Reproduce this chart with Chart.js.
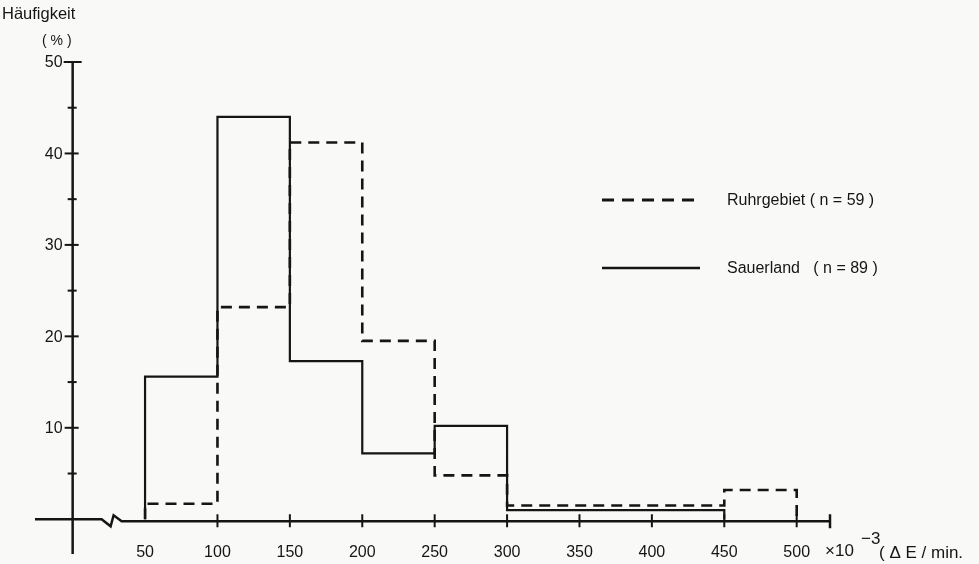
<!DOCTYPE html>
<html>
<head>
<meta charset="utf-8">
<script src="https://cdn.jsdelivr.net/npm/chart.js@4/dist/chart.umd.min.js"></script>
<style>
  html, body { margin: 0; padding: 0; background: #f9f9f7; }
  #wrap { width: 979px; height: 564px; }
</style>
</head>
<body>
<div id="wrap"><canvas id="histChart"></canvas></div>
<script>
// Klassengrenzen (x10^-3 dE/min) und Häufigkeiten in %
const ruhrEdges = [50, 100, 150, 200, 250, 300, 450, 500];
const ruhrValues = [1.7, 23.2, 41.2, 19.5, 4.8, 1.5, 3.2];
const sauerEdges = [50, 100, 150, 200, 250, 300, 450];
const sauerValues = [15.6, 44.0, 17.3, 7.2, 10.2, 1.0];

const xTickValues = [50, 100, 150, 200, 250, 300, 350, 400, 450, 500];
const xTickMarks = [100, 150, 200, 250, 300, 350, 400, 450, 500];
const yLabelValues = [10, 20, 30, 40, 50];
const yTickMarks = [5, 10, 15, 20, 25, 30, 35, 40, 45, 50];

const ruhrLabel = 'Ruhrgebiet ( n = 59 )';
const sauerLabel = 'Sauerland   ( n = 89 )';

const ink = '#151515';
const fontName = '"Liberation Sans", Arial, sans-serif';

// Treppenlinie aus Grenzen + Werten
function stepPoints(edges, values) {
  const pts = [{ x: edges[0], y: 0 }];
  values.forEach((v, i) => pts.push({ x: edges[i], y: v }));
  pts.push({ x: edges[edges.length - 1], y: values[values.length - 1] });
  pts.push({ x: edges[edges.length - 1], y: 0 });
  return pts;
}

const axesPlugin = {
  id: 'axesPlugin',
  beforeDraw(chart) {
    const ctx = chart.ctx;
    ctx.save();
    ctx.fillStyle = '#f9f9f7';
    ctx.fillRect(0, 0, chart.width, chart.height);
    ctx.restore();
  },
  beforeDatasetsDraw(chart) {
    const { ctx, scales: { x, y } } = chart;
    const x0 = x.getPixelForValue(0);
    const y0 = y.getPixelForValue(0);
    ctx.save();
    ctx.strokeStyle = ink;
    ctx.lineCap = 'butt';

    // y-Achse
    ctx.lineWidth = 2.5;
    ctx.beginPath();
    ctx.moveTo(x0, y.getPixelForValue(y.min));
    ctx.lineTo(x0, y.getPixelForValue(50));
    ctx.stroke();
    ctx.lineWidth = 2;
    yTickMarks.forEach(v => {
      const py = y.getPixelForValue(v);
      const major = v % 10 === 0;
      const l = v === 50 ? 9 : (major ? 8 : 5);
      const r = v === 50 ? 9 : (major ? 6 : 4);
      ctx.beginPath();
      ctx.moveTo(x0 - l, py);
      ctx.lineTo(x0 + r, py);
      ctx.stroke();
    });

    // x-Achse mit Bruchzeichen
    const xb1 = x.getPixelForValue(20);
    ctx.lineWidth = 2.5;
    ctx.beginPath();
    ctx.moveTo(x.getPixelForValue(x.min), y0);
    ctx.lineTo(xb1, y0);
    ctx.lineTo(xb1 + 9, y0 + 7);
    ctx.lineTo(xb1 + 12, y0 - 4);
    ctx.lineTo(xb1 + 20, y0 + 2);
    ctx.lineTo(x.getPixelForValue(523), y0 + 2);
    ctx.stroke();
    ctx.lineWidth = 2;
    xTickMarks.forEach(v => {
      const px = x.getPixelForValue(v);
      ctx.beginPath();
      ctx.moveTo(px, y0 - 5);
      ctx.lineTo(px, y0 + 8);
      ctx.stroke();
    });
    const xe = x.getPixelForValue(523);
    ctx.lineWidth = 2.5;
    ctx.beginPath();
    ctx.moveTo(xe, y0 - 5);
    ctx.lineTo(xe, y0 + 9);
    ctx.stroke();
    ctx.restore();
  },
  afterDraw(chart) {
    const { ctx, scales: { x, y } } = chart;
    const x0 = x.getPixelForValue(0);
    const y0 = y.getPixelForValue(0);
    ctx.save();
    ctx.fillStyle = ink;
    ctx.textBaseline = 'middle';

    // Tick-Beschriftung
    ctx.font = '16px ' + fontName;
    ctx.textAlign = 'right';
    yLabelValues.forEach(v => ctx.fillText(String(v), x0 - 10, y.getPixelForValue(v) + 1));
    ctx.textAlign = 'center';
    xTickValues.forEach(v => ctx.fillText(String(v), x.getPixelForValue(v), y0 + 33));

    // Achsentitel
    ctx.font = '16.5px ' + fontName;
    ctx.textAlign = 'left';
    ctx.fillText('Häufigkeit', 2, 14);
    ctx.font = '14px ' + fontName;
    ctx.fillText('( % )', 42, 41);

    ctx.font = '17px ' + fontName;
    ctx.fillText('×10', 825, y0 + 32);
    ctx.fillText('−3', 861, y0 + 20);
    ctx.fillText('( Δ E / min.', 879, y0 + 34);

    // Legende
    const lx1 = 602, lx2 = 700;
    ctx.strokeStyle = ink;
    ctx.lineWidth = 3;
    ctx.setLineDash([12, 8]);
    ctx.beginPath();
    ctx.moveTo(lx1, 200);
    ctx.lineTo(lx2, 200);
    ctx.stroke();
    ctx.setLineDash([]);
    ctx.lineWidth = 2.5;
    ctx.beginPath();
    ctx.moveTo(lx1, 268);
    ctx.lineTo(lx2, 268);
    ctx.stroke();
    ctx.font = '16px ' + fontName;
    ctx.fillText(ruhrLabel, 727, 201);
    ctx.fillText(sauerLabel, 727, 269);
    ctx.restore();
  }
};

const ctx = document.getElementById('histChart').getContext('2d');
new Chart(ctx, {
  type: 'line',
  data: {
    datasets: [
      {
        label: sauerLabel,
        data: stepPoints(sauerEdges, sauerValues),
        stepped: 'before',
        borderColor: ink,
        borderWidth: 2.2,
        pointRadius: 0,
        fill: false
      },
      {
        label: ruhrLabel,
        data: stepPoints(ruhrEdges, ruhrValues),
        stepped: 'before',
        borderColor: ink,
        borderWidth: 2.6,
        borderDash: [11, 7],
        pointRadius: 0,
        fill: false
      }
    ]
  },
  options: {
    responsive: true,
    maintainAspectRatio: false,
    animation: false,
    layout: { padding: { left: 27, right: 149, top: 62, bottom: 2 } },
    plugins: {
      legend: { display: false },
      tooltip: { enabled: false }
    },
    scales: {
      x: {
        type: 'linear',
        min: -26,
        max: 523,
        border: { display: false },
        grid: { display: false },
        ticks: { display: false }
      },
      y: {
        type: 'linear',
        min: -3.8,
        max: 50,
        border: { display: false },
        grid: { display: false },
        ticks: { display: false }
      }
    }
  },
  plugins: [axesPlugin]
});
</script>
</body>
</html>
